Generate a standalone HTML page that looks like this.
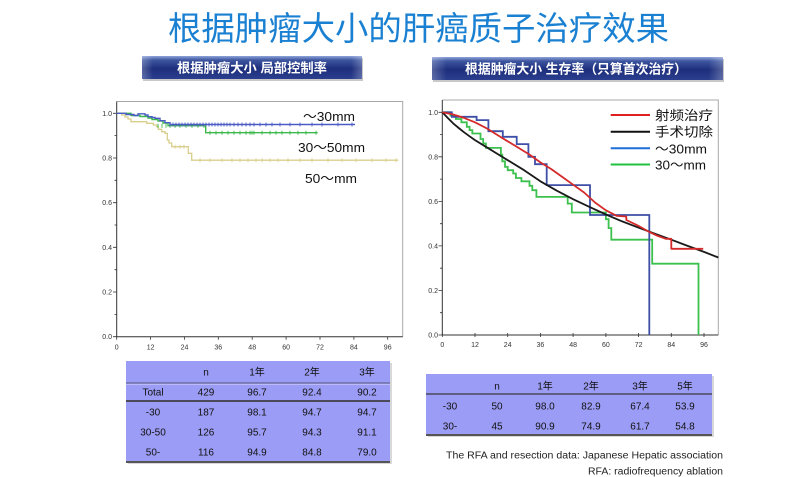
<!DOCTYPE html>
<html><head><meta charset="utf-8">
<style>
html,body{margin:0;padding:0;background:#fff;}
svg{display:block;}
.cj{font-family:"Liberation Sans","Noto Sans CJK SC",sans-serif;}
.tk{font-family:"Liberation Sans",sans-serif;font-size:7px;fill:#333;}
.tb{font-family:"Liberation Sans","Noto Sans CJK SC",sans-serif;font-size:10px;fill:#111;text-anchor:middle;}
</style></head>
<body>
<svg width="800" height="477" viewBox="0 0 800 477" xmlns="http://www.w3.org/2000/svg">
<defs>
<linearGradient id="bn" x1="0" y1="0" x2="0" y2="1">
<stop offset="0" stop-color="#8ea3da"/>
<stop offset="0.18" stop-color="#3d559f"/>
<stop offset="0.55" stop-color="#1d2e7c"/>
<stop offset="1" stop-color="#2b3f8e"/>
</linearGradient>
<linearGradient id="bs" x1="0" y1="0" x2="1" y2="0">
<stop offset="0" stop-color="#fff" stop-opacity="0.25"/>
<stop offset="0.05" stop-color="#fff" stop-opacity="0"/>
<stop offset="0.95" stop-color="#fff" stop-opacity="0"/>
<stop offset="1" stop-color="#fff" stop-opacity="0.25"/>
</linearGradient>
</defs>

<!-- Title -->
<text x="418.5" y="40" text-anchor="middle" class="cj" font-size="33" fill="#1a80d2" textLength="501" lengthAdjust="spacingAndGlyphs">根据肿瘤大小的肝癌质子治疗效果</text>

<!-- Banners -->
<rect x="143" y="58" width="220" height="23" fill="#c8c8c8"/>
<rect x="142" y="56" width="220" height="23" fill="url(#bn)"/>
<rect x="142" y="56" width="220" height="23" fill="url(#bs)"/>
<text x="252" y="72.5" text-anchor="middle" class="cj" font-size="13" font-weight="bold" fill="#fff" textLength="150" lengthAdjust="spacingAndGlyphs">根据肿瘤大小 局部控制率</text>

<rect x="433" y="59" width="291" height="23" fill="#c8c8c8"/>
<rect x="432" y="57" width="291" height="23" fill="url(#bn)"/>
<rect x="432" y="57" width="291" height="23" fill="url(#bs)"/>
<text x="576" y="73.5" text-anchor="middle" class="cj" font-size="13" font-weight="bold" fill="#fff" textLength="222" lengthAdjust="spacingAndGlyphs">根据肿瘤大小 生存率（只算首次治疗）</text>

<!-- LEFT CHART -->
<g>
<path d="M116.7,101.5 H402.7 V336.7" fill="none" stroke="#a8a8a8" stroke-width="1"/>
<path d="M116.7,101.5 V336.7 H402.7" fill="none" stroke="#333" stroke-width="1"/>
<!-- y ticks -->
<path d="M113,113.3h4M113,158h4M113,202.7h4M113,247.3h4M113,292h4M113,336.7h4M114.5,135.6h2.5M114.5,180.3h2.5M114.5,225h2.5M114.5,269.7h2.5M114.5,314.4h2.5" stroke="#333" stroke-width="0.8"/>
<g class="tk" text-anchor="end">
<text x="112" y="115.8">1.0</text>
<text x="112" y="160.5">0.8</text>
<text x="112" y="205.2">0.6</text>
<text x="112" y="249.8">0.4</text>
<text x="112" y="294.5">0.2</text>
<text x="112" y="339.2">0.0</text>
</g>
<path d="M116.7,336.7v3M150.6,336.7v3M184.5,336.7v3M218.3,336.7v3M252.2,336.7v3M286.1,336.7v3M320,336.7v3M353.9,336.7v3M387.7,336.7v3" stroke="#333" stroke-width="0.8"/>
<g class="tk" text-anchor="middle">
<text x="116.7" y="349.5">0</text>
<text x="150.6" y="349.5">12</text>
<text x="184.5" y="349.5">24</text>
<text x="218.3" y="349.5">36</text>
<text x="252.2" y="349.5">48</text>
<text x="286.1" y="349.5">60</text>
<text x="320" y="349.5">72</text>
<text x="353.9" y="349.5">84</text>
<text x="387.7" y="349.5">96</text>
</g>
<!-- yellow 50~ -->
<path d="M116.7,113.3 H121.7 V115 H125 V117 H128 V119 H131 V121.7 H146.7 V123.3 H153.3 V125 H156.7 V126.7 H158.3 V129.3 H161.7 V131.7 H165 V133.3 H167.3 V140 H169 V143 H171.7 V146.7 H188.3 V153.3 H191.7 V160.2 H398.3" fill="none" stroke="#d9cf8c" stroke-width="1.3"/>
<path d="M175,144.7v4M180,144.7v4M184,144.7v4M200,158.2v4M210,158.2v4M222,158.2v4M232,158.2v4M240,158.2v4M248,158.2v4M256,158.2v4M262,158.2v4M270,158.2v4M278,158.2v4M288,158.2v4M300,158.2v4M312,158.2v4M328,158.2v4M342,158.2v4M356,158.2v4M372,158.2v4M386,158.2v4M396,158.2v4" stroke="#d9cf8c" stroke-width="0.9"/>
<!-- green 30~50 -->
<path d="M116.7,113.3 H131 V115.5 H140 V116.5 H148 V118 H152 V119.5 H158 V121 H163 V123 H168 V125.7 H205.7 V132.7 H317.7" fill="none" stroke="#3cb84a" stroke-width="1.4"/>
<path d="M158,123.7v4M162,123.7v4M166,123.7v4M170,123.7v4M175,123.7v4M180,123.7v4M186,123.7v4M192,123.7v4M198,123.7v4M204,123.7v4M210,130.7v4M216,130.7v4M222,130.7v4M228,130.7v4M234,130.7v4M240,130.7v4M246,130.7v4M250,130.7v4M252,130.7v4M254,130.7v4M262,130.7v4M270,130.7v4M276,130.7v4M282,130.7v4M290,130.7v4M298,130.7v4M306,130.7v4M316,130.7v4" stroke="#3cb84a" stroke-width="0.9"/>
<!-- blue ~30 -->
<path d="M116.7,113.3 H126 V114.5 H134 V115.5 H138 V113.8 H145 V115 H148 V116.7 H152 V117.5 H155 V118.3 H160 V120.7 H165 V122.7 H170 V124.5 H355" fill="none" stroke="#4a5cc4" stroke-width="1.4"/>
<path d="M170,122.5v4M173,122.5v4M176,122.5v4M179,122.5v4M182,122.5v4M185,122.5v4M188,122.5v4M191,122.5v4M194,122.5v4M197,122.5v4M200,122.5v4M203,122.5v4M206,122.5v4M209,122.5v4M212,122.5v4M215,122.5v4M218,122.5v4M221,122.5v4M224,122.5v4M227,122.5v4M230,122.5v4M234,122.5v4M238,122.5v4M242,122.5v4M246,122.5v4M250,122.5v4M254,122.5v4M260,122.5v4M266,122.5v4M272,122.5v4M280,122.5v4M290,122.5v4M300,122.5v4M312,122.5v4M322,122.5v4M338,122.5v4M352,122.5v4" stroke="#4a5cc4" stroke-width="0.9"/>
<g class="cj" font-size="13" fill="#111">
<text x="303" y="121" textLength="52" lengthAdjust="spacingAndGlyphs">～30mm</text>
<text x="298" y="152" textLength="67" lengthAdjust="spacingAndGlyphs">30～50mm</text>
<text x="305" y="183" textLength="52" lengthAdjust="spacingAndGlyphs">50～mm</text>
</g>
</g>

<!-- RIGHT CHART -->
<g>
<path d="M442.3,100 H718.3 V335" fill="none" stroke="#a8a8a8" stroke-width="1"/>
<path d="M442.3,100 V335 H718.3" fill="none" stroke="#333" stroke-width="1"/>
<path d="M438.5,112.3h4M438.5,156.8h4M438.5,201.4h4M438.5,245.9h4M438.5,290.5h4M438.5,335h4M440,134.6h2.5M440,179.1h2.5M440,223.7h2.5M440,268.2h2.5M440,312.7h2.5" stroke="#333" stroke-width="0.8"/>
<g class="tk" text-anchor="end">
<text x="438" y="114.8">1.0</text>
<text x="438" y="159.3">0.8</text>
<text x="438" y="203.9">0.6</text>
<text x="438" y="248.4">0.4</text>
<text x="438" y="293">0.2</text>
<text x="438" y="337.5">0.0</text>
</g>
<path d="M442.3,333v4M475,333v4M507.7,333v4M540.4,333v4M573.1,333v4M605.9,333v4M638.6,333v4M671.3,333v4M704,333v4" stroke="#333" stroke-width="0.8"/>
<g class="tk" text-anchor="middle">
<text x="442.3" y="347">0</text>
<text x="475" y="347">12</text>
<text x="507.7" y="347">24</text>
<text x="540.4" y="347">36</text>
<text x="573.1" y="347">48</text>
<text x="605.9" y="347">60</text>
<text x="638.6" y="347">72</text>
<text x="671.3" y="347">84</text>
<text x="704" y="347">96</text>
</g>
<!-- green -->
<path d="M442.3,112.3 H450.5 V115.6 H455.9 V119 H461.4 V122.3 H466.8 V126.8 H469.6 V130.1 H472.3 V133.5 H480.5 V139 H483.2 V143.5 H485.9 V147.9 H500.9 V154.6 H502.3 V161.3 H505 V166.9 H507.7 V170.2 H513.2 V173.5 H515.9 V178 H521.4 V181.3 H529.5 V185.8 H532.3 V190.2 H536.4 V196.9 H567.7 V203.6 H571.8 V212.5 H605.9 V219.2 H608.6 V228.1 H611.3 V239.7 H652.2 V263.7 H698.5 V335" fill="none" stroke="#3cc04e" stroke-width="1.8"/>
<!-- blue -->
<path d="M442.3,112.3 H451.8 V116.8 H476.6 V120.1 H488.4 V131.2 H502.8 V136.8 H516.7 V144.1 H528.4 V156.8 H535 V164.2 H546.7 V185.1 H590 V215 H649.3 V335" fill="none" stroke="#3d4fa6" stroke-width="1.8"/>
<!-- black -->
<polyline points="442.3,112.3 447.8,118 453.2,123.4 458.7,128 464.1,132.3 469.6,136.3 475,140.1 485.9,146.8 496.8,153.5 507.7,160.2 524.1,170.2 540.4,181.3 556.8,190.7 573.1,199.2 589.5,206.9 605.9,214.5 622.2,221.4 638.6,227.7 654.9,233.7 671.3,239.7 687.6,245.9 704,251.9 718.3,257.5" fill="none" stroke="#1a1a1a" stroke-width="1.8" stroke-linejoin="round"/>
<!-- red -->
<polyline points="442.3,112.3 453.2,114.5 464.1,117.9 475,122.3 485.9,127.9 496.8,134.6 507.7,141.3 518.6,147.9 529.5,154.6 540.4,162.4 551.3,169.1 562.2,176.9 573.1,184.7 584.1,192.5 595,202.5 605.9,210.3 616.8,215.9 626.3,216.5 626.3,220 638.6,225.9 649.5,232.1 657.7,235.9 665.8,238.8 671.3,238.8 671.3,248.8 703.2,248.8" fill="none" stroke="#d42a2a" stroke-width="1.8" stroke-linejoin="round"/>
<!-- legend -->
<path d="M610.7,115H650" stroke="#e02020" stroke-width="2"/>
<path d="M610.7,131.7H650" stroke="#111" stroke-width="2"/>
<path d="M610.7,148.3H650" stroke="#1f6fd8" stroke-width="2"/>
<path d="M610.7,164.5H650" stroke="#22c040" stroke-width="2"/>
<g class="cj" font-size="13" fill="#111">
<text x="655" y="120" textLength="58" lengthAdjust="spacingAndGlyphs">射频治疗</text>
<text x="655" y="136.7" textLength="58" lengthAdjust="spacingAndGlyphs">手术切除</text>
<text x="655" y="153.3" textLength="52" lengthAdjust="spacingAndGlyphs">～30mm</text>
<text x="655" y="169.5" textLength="51" lengthAdjust="spacingAndGlyphs">30～mm</text>
</g>
</g>

<!-- LEFT TABLE -->
<rect x="128" y="363" width="264" height="101" fill="#d8d8d8"/>
<rect x="126" y="361" width="264" height="101" fill="#9b9cf5"/>
<path d="M126,383H390" stroke="#55557a" stroke-width="1"/>
<path d="M126,384.2H390" stroke="#c4c4ff" stroke-width="1"/>
<path d="M126,401H390" stroke="#4a4a5a" stroke-width="2"/>
<path d="M126,462H390" stroke="#555" stroke-width="2"/>
<g class="tb">
<text x="206" y="375.5">n</text><text x="257" y="375.5">1年</text><text x="312" y="375.5">2年</text><text x="367" y="375.5">3年</text>
<text x="153" y="395.5">Total</text><text x="206" y="395.5">429</text><text x="257" y="395.5">96.7</text><text x="312" y="395.5">92.4</text><text x="367" y="395.5">90.2</text>
<text x="153" y="415.5">-30</text><text x="206" y="415.5">187</text><text x="257" y="415.5">98.1</text><text x="312" y="415.5">94.7</text><text x="367" y="415.5">94.7</text>
<text x="153" y="435.5">30-50</text><text x="206" y="435.5">126</text><text x="257" y="435.5">95.7</text><text x="312" y="435.5">94.3</text><text x="367" y="435.5">91.1</text>
<text x="153" y="455.5">50-</text><text x="206" y="455.5">116</text><text x="257" y="455.5">94.9</text><text x="312" y="455.5">84.8</text><text x="367" y="455.5">79.0</text>
</g>

<!-- RIGHT TABLE -->
<rect x="428" y="376" width="286" height="61" fill="#d8d8d8"/>
<rect x="426" y="374" width="286" height="61" fill="#9b9cf5"/>
<path d="M426,394H712" stroke="#4a4a5a" stroke-width="1.5"/>
<path d="M426,435H712" stroke="#555" stroke-width="2"/>
<g class="tb">
<text x="497" y="389.5">n</text><text x="545" y="389.5">1年</text><text x="591" y="389.5">2年</text><text x="640" y="389.5">3年</text><text x="685" y="389.5">5年</text>
<text x="450" y="409.5">-30</text><text x="497" y="409.5">50</text><text x="545" y="409.5">98.0</text><text x="591" y="409.5">82.9</text><text x="640" y="409.5">67.4</text><text x="685" y="409.5">53.9</text>
<text x="450" y="429.5">30-</text><text x="497" y="429.5">45</text><text x="545" y="429.5">90.9</text><text x="591" y="429.5">74.9</text><text x="640" y="429.5">61.7</text><text x="685" y="429.5">54.8</text>
</g>

<!-- Footnotes -->
<g font-family="Liberation Sans, sans-serif" font-size="10" fill="#222">
<text x="446" y="458.5" textLength="277" lengthAdjust="spacingAndGlyphs">The RFA and resection  data: Japanese Hepatic association</text>
<text x="588" y="474.5" textLength="135" lengthAdjust="spacingAndGlyphs">RFA: radiofrequency ablation</text>
</g>
</svg>
</body></html>
